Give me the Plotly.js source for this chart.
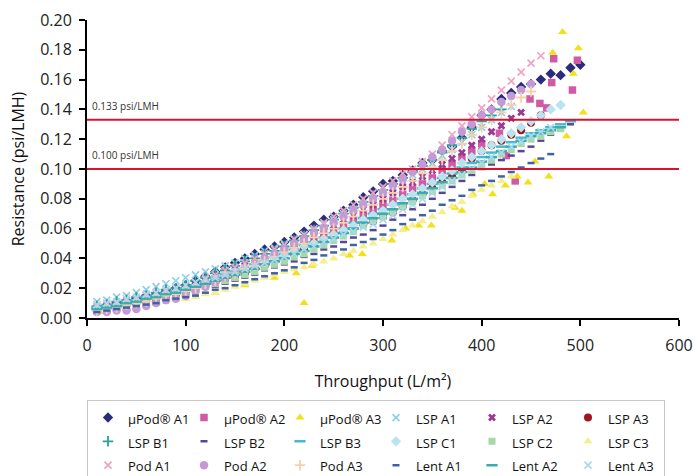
<!DOCTYPE html>
<html>
<head>
<meta charset="utf-8">
<script src="https://cdn.plot.ly/plotly-3.0.1.min.js"></script>
<style>html,body{margin:0;padding:0;background:#fff}#chart{width:695px;height:476px}</style>
</head>
<body>
<div id="chart"></div>
<script>
// Shared throughput grid (L/m²)
const throughput = [10,20,30,40,50,60,70,80,90,100,110,120,130,140,150,160,170,180,190,200,210,220,230,240,250,260,270,280,290,300,310,320,330,340,350,360,370,380,390,400,410,420,430,440,450,460,470,480,490,500];

// Resistance (psi/LMH) per series
const uPodA1 = [.006,.008,.010,.011,.013,.015,.016,.018,.020,.022,.025,.028,.031,.034,.037,.040,.043,.046,.048,.051,.054,.058,.062,.066,.068,.072,.076,.081,.085,.090,.092,.096,.099,.104,.106,.112,.115,.121,.128,.136,.140,.147,.151,.155,.157,.160,.164,.163,.168,.170];
const uPodA2X = [10,20,30,40,50,60,70,80,90,100,110,120,130,140,150,160,170,180,190,200,210,220,230,240,250,260,270,280,290,300,310,320,330,340,350,360,370,380,390,400,418,425,434,449,459,466,471,473,492,497];
const uPodA2 = [.005,.006,.007,.009,.010,.012,.013,.015,.017,.019,.021,.023,.025,.028,.030,.032,.035,.038,.040,.043,.046,.049,.052,.055,.058,.061,.065,.069,.072,.076,.079,.083,.087,.090,.094,.099,.103,.108,.112,.117,.124,.109,.092,.147,.144,.141,.158,.174,.153,.173];
const uPodA3X = [12,40,70,100,130,160,190,212,220,228,266,279,309,323,336,349,373,380,391,403,411,424,436,447,454,468,472,482,486,493,498,503];
const uPodA3 = [.004,.007,.010,.013,.017,.022,.027,.030,.010,.035,.042,.043,.052,.060,.062,.062,.074,.072,.083,.090,.083,.089,.095,.091,.105,.095,.178,.192,.122,.164,.181,.138];
const lspA1 = [.011,.012,.014,.015,.017,.019,.021,.023,.025,.027,.029,.031,.033,.035,.037,.040,.042,.045,.047,.050,.053,.056,.059,.063,.066,.070,.073,.077,.080,.084,.088,.092,.096,.100,.104,.109,.113,.118,.123,.128,.133,.138,.142];
const lspA2 = [.006,.008,.009,.011,.012,.014,.015,.017,.018,.020,.022,.025,.027,.030,.032,.035,.037,.040,.042,.045,.048,.052,.055,.059,.062,.066,.069,.073,.076,.080,.084,.088,.091,.095,.099,.103,.107,.111,.116,.120,.125,.129,.134,.138];
const lspA3 = [.005,.006,.007,.009,.010,.012,.013,.015,.016,.018,.020,.022,.024,.026,.028,.030,.033,.035,.038,.040,.043,.046,.049,.052,.055,.058,.060,.063,.065,.068,.071,.075,.079,.083,.087,.091,.095,.099,.107,.112,.116,.119,.123,.126,.131,.136];
const lspB1 = [.008,.009,.011,.012,.014,.015,.017,.019,.020,.022,.025,.027,.030,.032,.035,.038,.040,.043,.045,.048,.052,.055,.059,.062,.066,.070,.074,.078,.082,.086,.090,.094,.098,.102,.106,.111,.116,.121,.127,.132,.136,.140];
const lspB2 = [.005,.006,.007,.008,.009,.010,.012,.013,.015,.016,.018,.020,.021,.023,.025,.027,.029,.032,.034,.036,.038,.041,.043,.046,.048,.051,.054,.056,.059,.062,.066,.069,.073,.076,.080,.084,.088,.092,.096,.100,.103,.106,.109,.112,.115,.119,.123,.126,.130];
const lspB3 = [.007,.008,.009,.011,.012,.014,.015,.017,.018,.020,.022,.024,.027,.029,.031,.033,.036,.038,.041,.043,.046,.049,.051,.054,.057,.060,.064,.067,.070,.073,.076,.080,.083,.087,.090,.094,.097,.101,.104,.108,.111,.115,.118,.121,.124,.126,.128,.130,.132];
const lspC1 = [.006,.007,.008,.010,.011,.013,.014,.016,.017,.019,.021,.023,.026,.028,.030,.032,.035,.037,.040,.042,.045,.048,.050,.053,.056,.059,.062,.066,.069,.072,.076,.080,.083,.087,.091,.095,.099,.104,.108,.112,.116,.120,.124,.128,.132,.136,.140,.143];
const lspC2 = [.005,.006,.007,.009,.010,.011,.013,.014,.016,.017,.019,.021,.023,.025,.027,.029,.031,.034,.036,.038,.041,.043,.046,.049,.052,.055,.058,.062,.065,.068,.071,.075,.078,.082,.085,.089,.092,.096,.099,.103,.106,.110,.113,.117,.120,.122,.125,.127];
const lspC3 = [.004,.005,.006,.006,.007,.008,.009,.011,.012,.013,.014,.016,.017,.019,.021,.023,.025,.027,.029,.031,.033,.034,.036,.038,.040,.043,.045,.048,.050,.053,.056,.059,.062,.065,.068,.071,.075,.078,.082,.086,.089,.092,.095];
const podA1 = [.008,.009,.010,.012,.013,.015,.017,.018,.020,.022,.024,.027,.029,.032,.034,.037,.040,.043,.046,.049,.053,.056,.060,.064,.068,.072,.076,.080,.084,.088,.092,.097,.100,.105,.110,.116,.123,.129,.135,.141,.147,.153,.159,.165,.171,.176];
const podA2 = [.004,.004,.005,.005,.006,.008,.010,.012,.013,.015,.018,.021,.024,.027,.030,.033,.036,.040,.043,.046,.050,.053,.057,.060,.064,.068,.072,.076,.080,.084,.089,.093,.098,.103,.108,.113,.119,.125,.130,.136,.140,.145,.149,.153,.157];
const podA3 = [.005,.006,.007,.009,.010,.011,.013,.015,.016,.018,.020,.023,.025,.028,.030,.033,.035,.038,.041,.044,.047,.050,.054,.057,.060,.064,.068,.072,.076,.080,.084,.088,.092,.097,.101,.106,.112,.117,.123,.128,.133,.138,.143,.148,.152];
const lentA1 = [.004,.005,.006,.007,.008,.009,.010,.012,.013,.014,.015,.017,.019,.020,.022,.024,.026,.028,.030,.032,.034,.037,.039,.042,.044,.046,.049,.051,.053,.056,.059,.063,.066,.069,.072,.076,.079,.082,.086,.089,.092,.095,.098,.101,.104,.107,.110];
const lentA2 = [.006,.007,.008,.010,.011,.013,.014,.016,.017,.019,.021,.023,.025,.027,.029,.031,.033,.036,.038,.040,.043,.045,.048,.051,.054,.057,.060,.064,.067,.070,.073,.077,.080,.084,.087,.091,.094,.098,.101,.105,.108,.112,.115,.119,.122,.124,.126,.128];
const lentA3 = [.009,.010,.011,.013,.014,.016,.017,.019,.020,.022,.024,.026,.027,.029,.031,.033,.035,.037,.039,.041,.043,.046,.048,.051,.053,.056,.058,.061,.063,.066,.069,.073,.076,.080,.084,.088,.092,.096,.100,.104,.108,.111,.115,.118,.122,.125,.128];

const seriesNames = ['µPod® A1','µPod® A2','µPod® A3','LSP A1','LSP A2','LSP A3','LSP B1','LSP B2','LSP B3','LSP C1','LSP C2','LSP C3','Pod A1','Pod A2','Pod A3','Lent A1','Lent A2','Lent A3'];
const thresholds = [0.133, 0.100];
const thresholdLabels = ['0.133 psi/LMH', '0.100 psi/LMH'];

function onGrid(y){ return throughput.slice(0, y.length); }

const seriesData = [
  [onGrid(uPodA1), uPodA1], [uPodA2X, uPodA2], [uPodA3X, uPodA3],
  [onGrid(lspA1), lspA1], [onGrid(lspA2), lspA2], [onGrid(lspA3), lspA3],
  [onGrid(lspB1), lspB1], [onGrid(lspB2), lspB2], [onGrid(lspB3), lspB3],
  [onGrid(lspC1), lspC1], [onGrid(lspC2), lspC2], [onGrid(lspC3), lspC3],
  [onGrid(podA1), podA1], [onGrid(podA2), podA2], [onGrid(podA3), podA3],
  [onGrid(lentA1), lentA1], [onGrid(lentA2), lentA2], [onGrid(lentA3), lentA3]
];

const styles = [
  {symbol:'diamond', color:'#2b2c7c', size:8},
  {symbol:'square', color:'#d05aa5', size:7.5},
  {symbol:'triangle-up', color:'#f2e01c', size:8},
  {symbol:'x-thin', color:'#8fd0e8', size:7, line:1.7},
  {symbol:'x', color:'#9b3a95', size:7},
  {symbol:'circle', color:'#a3151f', size:8},
  {symbol:'cross-thin', color:'#2aa19a', size:7.5, line:1.8},
  {symbol:'line-ew', color:'#5b4597', size:5, line:2.5},
  {symbol:'line-ew', color:'#41bcd0', size:8, line:2.5},
  {symbol:'diamond', color:'#b9e3ee', size:8},
  {symbol:'square', color:'#a9d8a8', size:7},
  {symbol:'triangle-up', color:'#f6ee8c', size:8},
  {symbol:'x-thin', color:'#f0a2c4', size:7, line:1.7},
  {symbol:'circle', color:'#c49ad6', size:8.5},
  {symbol:'cross-thin', color:'#f8cfae', size:7.5, line:1.8},
  {symbol:'line-ew', color:'#3e62a8', size:5, line:2.5},
  {symbol:'line-ew', color:'#3aabb0', size:8, line:2.5},
  {symbol:'x-thin', color:'#a9d9ee', size:7, line:1.7}
];

const traces = seriesNames.map((name, i) => {
  const s = styles[i];
  const marker = {symbol: s.symbol, color: s.color, size: s.size};
  marker.line = s.line ? {color: s.color, width: s.line} : {width: 0};
  return {
    type: 'scatter', mode: 'markers',
    name: '<span style="font-size:13px">' + name + '</span>',
    x: seriesData[i][0], y: seriesData[i][1],
    marker: marker, hoverinfo: 'skip'
  };
});

const font = '"Open Sans", "Noto Sans", Arial, sans-serif';

const layout = {
  width: 695, height: 476,
  margin: {l: 87, r: 16, t: 20, b: 158, autoexpand: false},
  paper_bgcolor: '#fff', plot_bgcolor: '#fff',
  font: {family: font, color: '#222'},
  showlegend: true,
  xaxis: {
    range: [0, 600], dtick: 100, tick0: 0,
    showgrid: false, zeroline: false,
    showline: true, linecolor: '#000', linewidth: 2,
    ticks: 'outside', ticklen: 6, tickwidth: 2, tickcolor: '#000',
    tickfont: {size: 16, color: '#222'}, ticklabelstandoff: 6,
    title: {text: 'Throughput (L/m²)', font: {size: 16, color: '#111'}, standoff: 21}
  },
  yaxis: {
    range: [0, 0.2], dtick: 0.02, tick0: 0, tickformat: '.2f',
    showgrid: false, zeroline: false,
    showline: true, linecolor: '#000', linewidth: 2,
    ticks: 'outside', ticklen: 6, tickwidth: 2, tickcolor: '#000',
    tickfont: {size: 16, color: '#222'}, ticklabelstandoff: 4,
    title: {text: 'Resistance (psi/LMH)', font: {size: 16, color: '#111'}, standoff: 12}
  },
  shapes: thresholds.map(v => ({
    type: 'line', xref: 'paper', yref: 'y', x0: 0, x1: 1, y0: v, y1: v,
    line: {color: '#d7142e', width: 2}, layer: 'above'
  })),
  annotations: thresholds.map((v, i) => ({
    xref: 'paper', yref: 'y', x: 0.005, y: v, xanchor: 'left', yanchor: 'bottom',
    yshift: 5, showarrow: false, text: thresholdLabels[i],
    font: {size: 10, color: '#333', family: font}
  })),
  legend: {
    orientation: 'h', x: 0, xanchor: 'left', y: -0.274, yanchor: 'top',
    entrywidth: 51, entrywidthmode: 'pixels',
    bordercolor: '#c8c8c8', borderwidth: 1, bgcolor: '#fff',
    font: {size: 16, color: '#111', family: font},
    itemwidth: 30
  }
};

Plotly.newPlot('chart', traces, layout, {displayModeBar: false, staticPlot: true});
</script>
</body>
</html>
